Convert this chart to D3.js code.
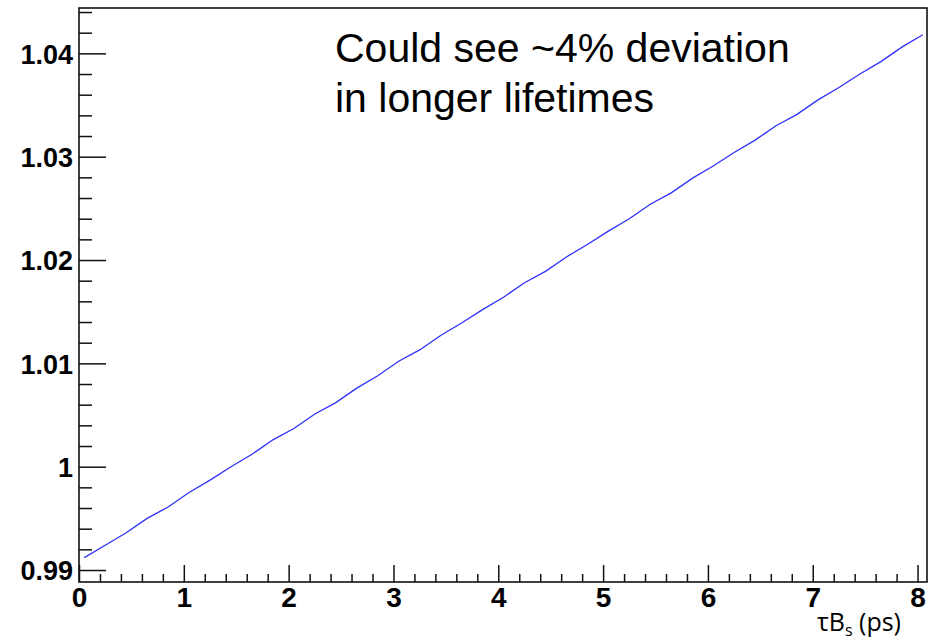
<!DOCTYPE html>
<html>
<head>
    <script src="https://d3js.org/d3.v7.min.js"></script>
    <style>
        body { margin: 0; background: #fff; }
    </style>
</head>
<body>
    <svg width="930" height="641"></svg>

    <script>
        // lifetime (ps)
        var tau = [0.05, 0.25, 0.45, 0.65, 0.85, 1.05, 1.25, 1.45, 1.65, 1.85,
                   2.05, 2.25, 2.45, 2.65, 2.85, 3.05, 3.25, 3.45, 3.65, 3.85,
                   4.05, 4.25, 4.45, 4.65, 4.85, 5.05, 5.25, 5.45, 5.65, 5.85,
                   6.05, 6.25, 6.45, 6.65, 6.85, 7.05, 7.25, 7.45, 7.65, 7.85, 8.05];
        // ratio values
        var ratio = [0.9912, 0.9924, 0.9936, 0.9950, 0.9961, 0.9975, 0.9987, 1.0000, 1.0012, 1.0026,
                     1.0037, 1.0051, 1.0062, 1.0076, 1.0088, 1.0102, 1.0113, 1.0127, 1.0139, 1.0152,
                     1.0164, 1.0178, 1.0189, 1.0203, 1.0215, 1.0228, 1.0240, 1.0254, 1.0265, 1.0279,
                     1.0291, 1.0304, 1.0316, 1.0330, 1.0341, 1.0355, 1.0367, 1.0380, 1.0392, 1.0406, 1.0418];

        var xTicks = [0, 1, 2, 3, 4, 5, 6, 7, 8];
        var xTickLabels = ["0", "1", "2", "3", "4", "5", "6", "7", "8"];
        var yTicks = [0.99, 1.00, 1.01, 1.02, 1.03, 1.04];
        var yTickLabels = ["0.99", "1", "1.01", "1.02", "1.03", "1.04"];
        var annotation = ["Could see ~4% deviation", "in longer lifetimes"];

        var frameL = 79, frameR = 927, frameT = 8, frameB = 582;

        var svg = d3.select("svg");

        var x = d3.scaleLinear().domain([0, 8.09]).range([frameL, frameR]);
        var y = d3.scaleLinear().domain([0.98884, 1.04439]).range([frameB, frameT]);

        var xMinor = d3.range(0, 8.001, 0.2).filter(function(v) { return Math.abs(v - Math.round(v)) > 1e-6; });
        var yMinor = d3.range(0.99, 1.0445, 0.002).filter(function(v) { return Math.abs(v * 100 - Math.round(v * 100)) > 1e-6; });

        // minor ticks
        svg.append("g")
            .attr("transform", "translate(0," + frameB + ")")
            .call(d3.axisBottom(x).tickValues(xMinor).tickSizeInner(-8).tickSizeOuter(0).tickFormat(""))
            .call(function(g) { g.select(".domain").remove(); });

        svg.append("g")
            .attr("transform", "translate(" + frameL + ",0)")
            .call(d3.axisLeft(y).tickValues(yMinor).tickSizeInner(-13).tickSizeOuter(0).tickFormat(""))
            .call(function(g) { g.select(".domain").remove(); });

        // major ticks with labels
        var xAxis = svg.append("g")
            .attr("transform", "translate(0," + frameB + ")")
            .call(d3.axisBottom(x).tickValues(xTicks).tickSizeInner(-17).tickSizeOuter(0).tickPadding(5)
                .tickFormat(function(d, i) { return xTickLabels[i]; }));
        xAxis.select(".domain").remove();
        xAxis.selectAll(".tick text").style("font-size", "28px");

        var yAxis = svg.append("g")
            .attr("transform", "translate(" + frameL + ",0)")
            .call(d3.axisLeft(y).tickValues(yTicks).tickSizeInner(-27).tickSizeOuter(0).tickPadding(6)
                .tickFormat(function(d, i) { return yTickLabels[i]; }));
        yAxis.select(".domain").remove();
        yAxis.selectAll(".tick text").style("font-size", "27px").attr("dy", "0.36em");

        svg.selectAll(".tick line").attr("stroke", "#111").attr("stroke-width", 1.5);
        svg.selectAll(".tick text")
            .attr("fill", "#000")
            .style("font-family", "'Liberation Sans', Arial, sans-serif")
            .style("font-weight", "bold");

        // frame
        svg.append("rect")
            .attr("x", frameL).attr("y", frameT)
            .attr("width", frameR - frameL).attr("height", frameB - frameT)
            .attr("fill", "none")
            .attr("stroke", "#111")
            .attr("stroke-width", 1.6);

        // curve
        var line = d3.line()
            .x(function(d, i) { return x(tau[i]); })
            .y(function(d) { return y(d); });

        svg.append("path")
            .datum(ratio)
            .attr("d", line)
            .attr("fill", "none")
            .attr("stroke", "#3030ff")
            .attr("stroke-width", 1.3);

        // annotation
        svg.append("text")
            .attr("x", 335)
            .attr("y", 62)
            .style("font-family", "'Liberation Sans', Arial, sans-serif")
            .style("font-size", "41px")
            .attr("fill", "#000")
            .selectAll("tspan")
            .data(annotation)
            .enter().append("tspan")
            .attr("x", 335)
            .attr("dy", function(d, i) { return i === 0 ? 0 : 50; })
            .text(function(d) { return d; });

        // axis title
        var title = svg.append("text")
            .attr("x", 901)
            .attr("y", 631)
            .attr("text-anchor", "end")
            .style("font-family", "'Open Sans', sans-serif")
            .style("font-size", "25px")
            .attr("fill", "#000");
        title.append("tspan").text("\u03c4B");
        title.append("tspan").attr("dy", 5).style("font-size", "16px").text("s");
        title.append("tspan").attr("dy", -5).text(" (ps)");
    </script>
</body>
</html>
